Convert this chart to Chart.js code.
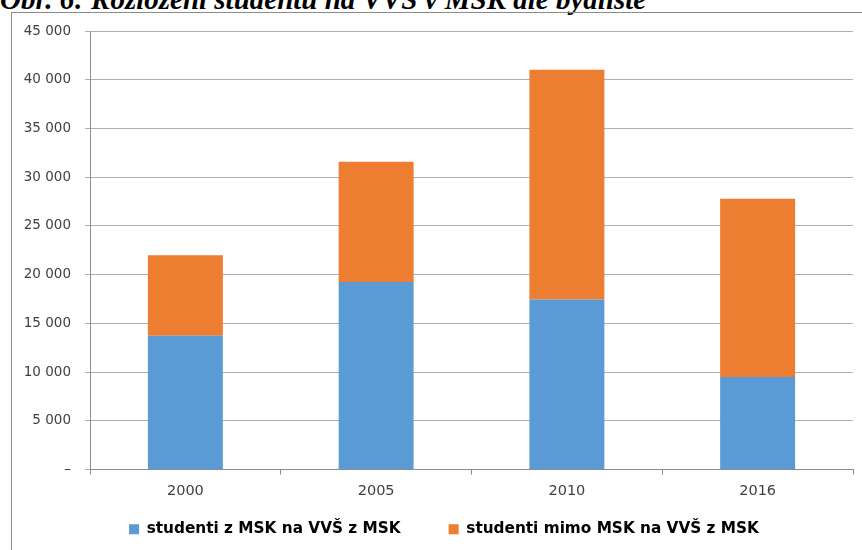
<!DOCTYPE html>
<html lang="cs">
<head>
<meta charset="utf-8">
<script src="https://cdn.jsdelivr.net/npm/chart.js@4.4.1/dist/chart.umd.min.js"></script>
<style>
  html, body { margin: 0; padding: 0; background: #fff; overflow: hidden; }
  #wrap { position: relative; width: 862px; height: 550px; overflow: hidden; }
  #title {
    position: absolute; left: 0px; top: -17px;
    font: bold italic 29px "Liberation Serif", "DejaVu Serif", serif;
    white-space: nowrap; color: #000;
  }
  #frame {
    position: absolute; left: 11px; top: 12px; width: 900px; height: 600px;
    border: 1px solid #8a8a8a;
  }
  #chart { position: absolute; left: 0; top: 0; }
</style>
</head>
<body>
<div id="wrap">
  <div id="title">Obr. 6: Rozložení studentů na VVŠ v MSK dle bydliště</div>
  <div id="frame"></div>
  <canvas id="chart" width="862" height="550"></canvas>
</div>
<script>
const years = ["2000", "2005", "2010", "2016"];
const fromMSK = [13750, 19250, 17450, 9500];
const outsideMSK = [8250, 12330, 23580, 18300];
const seriesNames = ["studenti z MSK na VVŠ z MSK", "studenti mimo MSK na VVŠ z MSK"];
const yTicks = [0, 5000, 10000, 15000, 20000, 25000, 30000, 35000, 40000, 45000];

const fontFamily = "'DejaVu Sans', sans-serif";

const fmt = (v) => (v === 0 ? "–" : v.toLocaleString("en-US").replace(/,/g, " "));

// wider gap between legend items than labels.padding allows, without changing legend height
const legendGap = {
  id: "legendGap",
  afterLayout(chart) {
    const lg = chart.legend;
    if (!lg || !lg.lineWidths) return;
    const extra = 38;
    lg.options.labels.padding = 10 + extra;
    lg.top -= extra;
    lg.lineWidths[0] += extra * 2;
    lg.left += 35;
  },
};

new Chart(document.getElementById("chart"), {
  type: "bar",
  data: {
    labels: years,
    datasets: [
      { label: seriesNames[0], data: fromMSK, backgroundColor: "#5b9bd5", borderWidth: 0 },
      { label: seriesNames[1], data: outsideMSK, backgroundColor: "#ed7d31", borderWidth: 0 },
    ],
  },
  options: {
    responsive: false,
    animation: false,
    barPercentage: 0.393,
    categoryPercentage: 1,
    layout: { padding: { top: 31, right: 9, left: 0, bottom: 3 } },
    scales: {
      x: {
        stacked: true,
        grid: { drawOnChartArea: false, offset: true, tickLength: 5, color: "#8c8c8c" },
        border: { color: "#8c8c8c" },
        ticks: { padding: 8, color: "#404040", font: { family: fontFamily, size: 14.5 } },
        afterFit: (s) => { s.height = 42; },
      },
      y: {
        stacked: true,
        min: 0,
        max: 45000,
        afterBuildTicks: (s) => { s.ticks = yTicks.map((v) => ({ value: v })); },
        ticks: { padding: 14, color: "#404040", font: { family: fontFamily, size: 13.5 }, callback: (v) => fmt(v) },
        grid: { color: "#b0b0b0", tickLength: 5 },
        border: { color: "#8c8c8c" },
        afterFit: (s) => { s.width = 90; },
      },
    },
    plugins: {
      tooltip: { enabled: false },
      legend: {
        position: "bottom",
        labels: {
          boxWidth: 10,
          boxHeight: 10,
          padding: 10,
          color: "#000",
          font: { family: fontFamily, size: 15.3, weight: "bold" },
        },
      },
    },
  },
  plugins: [legendGap],
});
</script>
</body>
</html>
